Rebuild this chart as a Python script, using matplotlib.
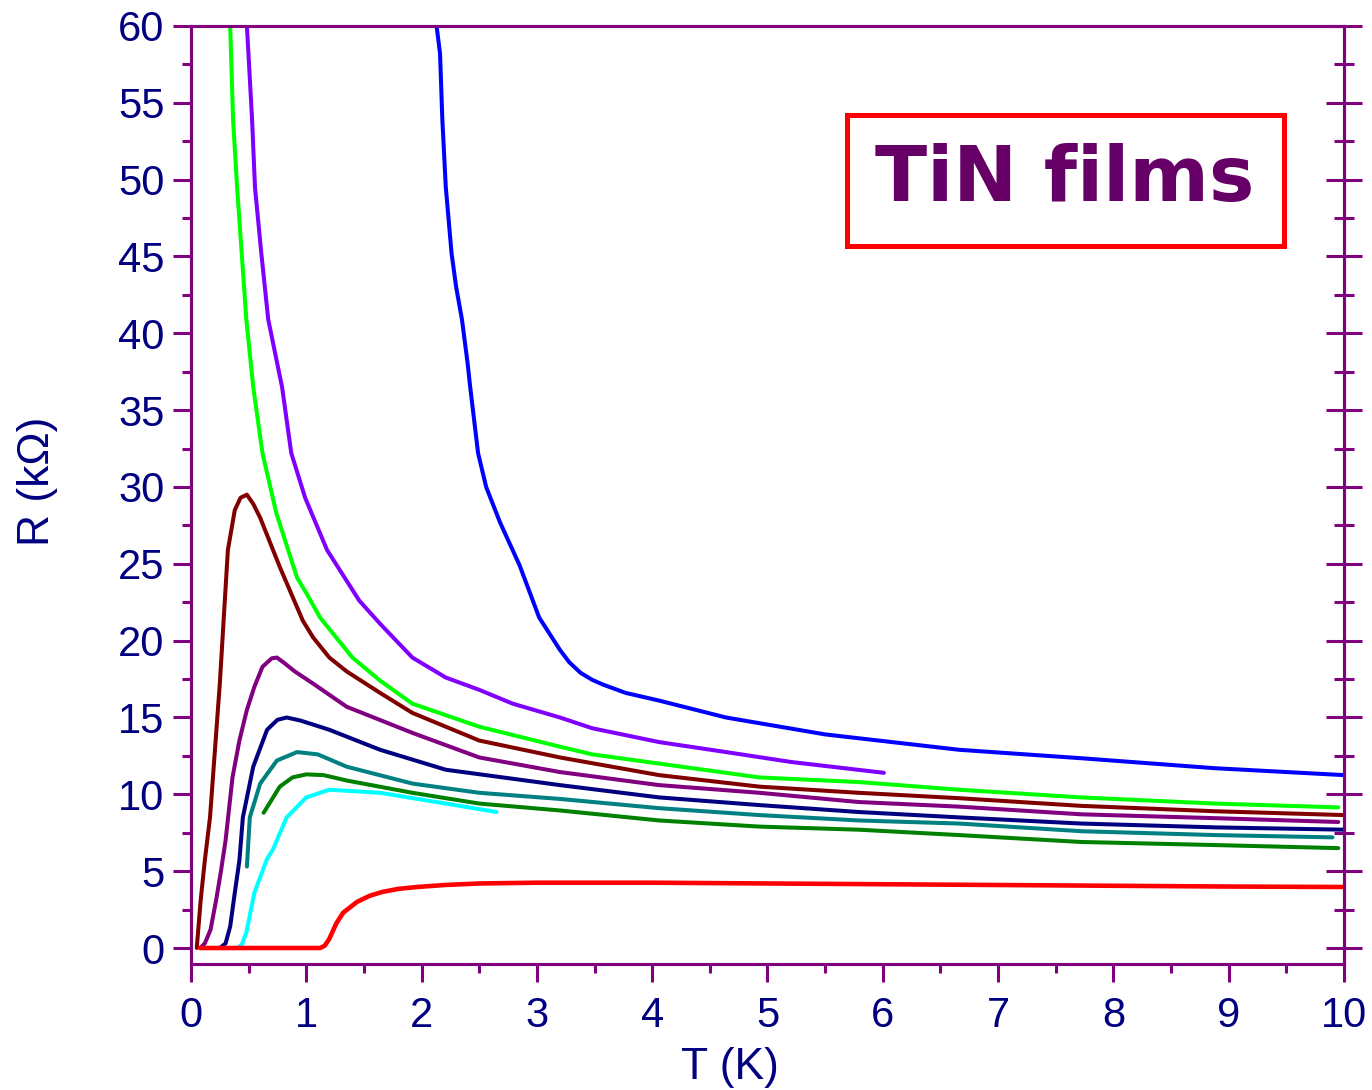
import matplotlib
matplotlib.use("Agg")
import matplotlib.pyplot as plt
from matplotlib.patches import Rectangle
from matplotlib.ticker import MultipleLocator

plt.rcParams['font.family'] = ['Liberation Sans', 'DejaVu Sans']

# ----------------------- data (T in K, R in kOhm) -----------------------
blue_T = [2.13, 2.16, 2.18, 2.21, 2.26, 2.30, 2.35, 2.40, 2.42, 2.49, 2.56, 2.68, 2.85, 3.02,
          3.2, 3.28, 3.38, 3.48, 3.57, 3.77, 4.06, 4.64, 5.5, 6.08, 6.66, 7.72, 8.88, 10.0]
blue_R = [60, 58.2, 53.9, 49.5, 45.2, 43.0, 40.9, 38.0, 36.6, 32.2, 30.0, 27.7, 24.9, 21.5,
          19.4, 18.6, 17.9, 17.45, 17.15, 16.6, 16.1, 15.0, 13.9, 13.4, 12.9, 12.35, 11.7,
          11.25]

violet_T = [0.485, 0.53, 0.555, 0.61, 0.67, 0.79, 0.87, 0.99, 1.18, 1.46, 1.64, 1.92, 2.21,
            2.5, 2.79, 3.2, 3.48, 4.06, 4.64, 5.21, 6.01]
violet_R = [60, 53.9, 49.5, 45.2, 40.9, 36.5, 32.2, 29.3, 25.9, 22.6, 21.1, 18.9, 17.6,
            16.8, 15.9, 15.0, 14.3, 13.4, 12.75, 12.1, 11.4]

lime_T = [0.34, 0.365, 0.4, 0.44, 0.48, 0.54, 0.62, 0.74, 0.92, 1.0, 1.12, 1.4, 1.64, 1.92,
          2.5, 3.2, 3.48, 4.06, 4.93, 5.79, 6.66, 7.72, 8.88, 9.95]
lime_R = [60, 53.9, 49.5, 45.2, 40.9, 36.5, 32.2, 28.3, 24.1, 23.1, 21.5, 18.9, 17.4, 15.9,
          14.4, 13.1, 12.6, 12.0, 11.1, 10.8, 10.3, 9.8, 9.4, 9.15]

maroon_T = [0.05, 0.084, 0.12, 0.165, 0.25, 0.32, 0.38, 0.43, 0.485, 0.54, 0.6, 0.77, 0.97,
            1.06, 1.2, 1.35, 1.64, 1.92, 2.21, 2.5, 3.2, 4.06, 4.93, 5.79, 6.66, 7.72,
            8.88, 10.0]
maroon_R = [0, 3.1, 5.7, 8.5, 17.2, 25.9, 28.5, 29.3, 29.5, 28.9, 28.0, 24.8, 21.3,
            20.2, 18.9, 18.0, 16.6, 15.3, 14.4, 13.5, 12.4, 11.25, 10.5, 10.1, 9.75, 9.25,
            8.9, 8.65]

purple_T = [0.08, 0.12, 0.17, 0.22, 0.26, 0.3, 0.36, 0.42, 0.485, 0.55, 0.62, 0.7, 0.745,
            0.8, 0.9, 1.06, 1.35, 1.92, 2.5, 3.2, 4.06, 4.93, 5.79, 6.66, 7.72, 8.88, 9.95]
purple_R = [0, 0.3, 1.2, 3.2, 5.0, 7.0, 11.1, 13.5, 15.5, 17.0, 18.3, 18.85, 18.9,
            18.6, 18.0, 17.2, 15.7, 14.0, 12.4, 11.45, 10.6, 10.1, 9.5, 9.2, 8.7, 8.45, 8.2]

navy_T = [0.25, 0.3, 0.34, 0.38, 0.42, 0.45, 0.54, 0.66, 0.75, 0.83, 0.95, 1.2, 1.64, 2.21,
          3.2, 4.06, 4.93, 5.79, 6.66, 7.72, 8.88, 10.0]
navy_R = [0, 0.3, 1.4, 3.6, 5.7, 8.5, 11.8, 14.2, 14.85, 15.0, 14.8, 14.2, 12.9, 11.6,
          10.6, 9.8, 9.3, 8.85, 8.5, 8.1, 7.85, 7.7]

teal_T = [0.485, 0.51, 0.6, 0.745, 0.92, 1.1, 1.35, 1.92, 2.5, 3.2, 4.06, 4.93, 5.79,
          6.66, 7.72, 8.88, 9.9]
teal_R = [5.3, 8.5, 10.7, 12.2, 12.75, 12.6, 11.8, 10.7, 10.1, 9.7, 9.1, 8.65, 8.3,
          8.1, 7.6, 7.35, 7.2]

dkgreen_T = [0.63, 0.77, 0.88, 1.0, 1.15, 1.35, 1.92, 2.5, 3.2, 4.06, 4.93, 5.79, 6.66,
             7.72, 8.88, 9.95]
dkgreen_R = [8.8, 10.5, 11.1, 11.3, 11.25, 10.9, 10.1, 9.4, 8.95, 8.3, 7.9, 7.7, 7.35,
             6.9, 6.7, 6.5]

cyan_T = [0.4, 0.44, 0.48, 0.55, 0.62, 0.66, 0.71, 0.83, 1.0, 1.2, 1.64, 2.21, 2.65]
cyan_R = [0, 0.2, 1.0, 3.6, 5.0, 5.8, 6.4, 8.5, 9.8, 10.3, 10.1, 9.4, 8.85]

red_T = [0.08, 0.5, 1.0, 1.12, 1.16, 1.2, 1.26, 1.32, 1.44, 1.55, 1.66, 1.8, 1.96, 2.2,
         2.5, 3.0, 4.0, 5.0, 6.0, 7.0, 8.0, 9.0, 10.0]
red_R = [0, 0, 0, 0, 0.15, 0.6, 1.6, 2.3, 3.0, 3.4, 3.65, 3.85, 3.97, 4.1,
         4.2, 4.25, 4.25, 4.2, 4.15, 4.1, 4.05, 4.0, 3.97]

x_ticks = list(range(0, 11))
y_ticks = list(range(0, 61, 5))

PURPLE = "#800080"
NAVY = "#000080"

fig = plt.figure(figsize=(13.72, 10.90), dpi=100)
ax = fig.add_axes([0.1392, 0.1156, 0.8404, 0.8606])

curves = [
    (blue_T, blue_R, "#0000FF"),
    (violet_T, violet_R, "#8000FF"),
    (lime_T, lime_R, "#00FF00"),
    (maroon_T, maroon_R, "#800000"),
    (purple_T, purple_R, "#800080"),
    (navy_T, navy_R, "#000080"),
    (teal_T, teal_R, "#008080"),
    (dkgreen_T, dkgreen_R, "#008000"),
    (cyan_T, cyan_R, "#00FFFF"),
]
for t, r, c in curves:
    ax.plot(t, r, color=c, lw=2.9, solid_capstyle="round", solid_joinstyle="round")
ax.plot(red_T, red_R, color="#FF0000", lw=3.3, solid_capstyle="round",
        solid_joinstyle="round")

ax.set_xlim(0, 10)
ax.set_ylim(-1.04, 60)
ax.set_xticks(x_ticks)
ax.set_yticks(y_ticks)
ax.xaxis.set_minor_locator(MultipleLocator(0.5))
ax.yaxis.set_minor_locator(MultipleLocator(2.5))

ax.tick_params(which="major", direction="out", length=13, width=2.2, color=PURPLE,
               labelsize=30, labelcolor=NAVY, pad=6, top=False, right=False)
ax.tick_params(axis="x", which="major", pad=10)
ax.tick_params(which="minor", direction="out", length=6.5, width=2.2, color=PURPLE,
               top=False, right=False)

# right side ticks cross the spine
ax2 = ax.twinx()
ax2.set_ylim(ax.get_ylim())
ax2.yaxis.set_major_locator(MultipleLocator(5))
ax2.yaxis.set_minor_locator(MultipleLocator(2.5))
ax2.tick_params(which="major", direction="inout", length=26, width=2.2, color=PURPLE,
                labelright=False)
ax2.tick_params(which="minor", direction="inout", length=14, width=2.2, color=PURPLE)

for a in (ax, ax2):
    for s in a.spines.values():
        s.set_color(PURPLE)
        s.set_linewidth(2.2)

ax.set_xlabel("T (K)", fontsize=32, color=NAVY, labelpad=8)
ax.xaxis.label.set_x(0.467)
ax.set_ylabel("R (kΩ)", fontsize=32, color=NAVY, labelpad=43)
ax.yaxis.label.set_y(0.515)

# label box
ax.add_patch(Rectangle((0.569, 0.765), 0.379, 0.140, transform=ax.transAxes,
                       fill=False, ec="#FF0000", lw=3.6, zorder=5))
ax.text(0.758, 0.836, "TiN films", transform=ax.transAxes, ha="center", va="center",
        fontsize=55, fontweight="bold", color="#660066", family="DejaVu Sans", zorder=6)

fig.savefig("out.png", dpi=100)
